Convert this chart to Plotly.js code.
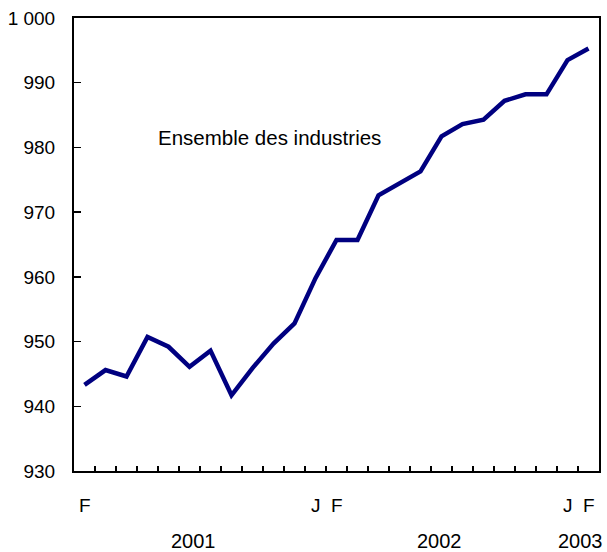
<!DOCTYPE html>
<html>
<head>
<meta charset="utf-8">
<script src="https://cdn.plot.ly/plotly-3.0.1.min.js"></script>
<style>html,body{margin:0;padding:0;background:#fff;}#chart{width:607px;height:552px;}</style>
</head>
<body>
<div id="chart"></div>
<script>
// Monthly values, Feb 2001 .. Feb 2003 (25 months)
const monthIndex = [0,1,2,3,4,5,6,7,8,9,10,11,12,13,14,15,16,17,18,19,20,21,22,23,24];
const values = [943.3, 945.6, 944.6, 950.7, 949.2, 946.1, 948.6, 941.7, 945.9, 949.7,
                952.8, 959.8, 965.7, 965.7, 972.6, 974.5, 976.3, 981.7, 983.6, 984.3,
                987.2, 988.2, 988.2, 993.5, 995.3];
const seriesName = "Ensemble des industries";
const yTickVals = [930, 940, 950, 960, 970, 980, 990, 1000];
const yTickText = ["930", "940", "950", "960", "970", "980", "990", "1 000"];
const monthLabelPos = [0, 11, 12, 23, 24];
const monthLabels = ["F", "J", "F", "J", "F"];
const yearLabelPos = [5.2, 16.9, 23.6];
const yearLabels = ["2001", "2002", "2003"];

const tickHalf = monthIndex.slice(0, -1).map(i => i + 0.5);
const FONT = "Liberation Sans, Arial, sans-serif";

const annotations = [];
monthLabelPos.forEach((p, i) => annotations.push({
  x: p, y: 0, xref: "x", yref: "paper", text: monthLabels[i], showarrow: false,
  yanchor: "middle", xanchor: "center", yshift: -34, font: {family: FONT, size: 19, color: "#000"}
}));
yearLabelPos.forEach((p, i) => annotations.push({
  x: p, y: 0, xref: "x", yref: "paper", text: yearLabels[i], showarrow: false,
  yanchor: "middle", xanchor: "center", yshift: -70, font: {family: FONT, size: 20, color: "#000"}
}));
annotations.push({
  x: 3.4, y: 981.5, xref: "x", yref: "y", text: seriesName, showarrow: false,
  xanchor: "left", yanchor: "middle", font: {family: FONT, size: 20.5, color: "#000"}
});

Plotly.newPlot("chart", [{
  x: monthIndex, y: values, type: "scatter", mode: "lines",
  line: {color: "#000080", width: 4.5}, hoverinfo: "skip"
}], {
  width: 607, height: 552,
  margin: {l: 74, r: 8, t: 18, b: 81},
  paper_bgcolor: "#fff", plot_bgcolor: "#fff",
  showlegend: false,
  font: {family: FONT, size: 19, color: "#000"},
  xaxis: {
    range: [-0.5, 24.5], tickvals: tickHalf, ticks: "inside", ticklen: 5, tickwidth: 1.5,
    tickcolor: "#000", showticklabels: false, showgrid: false, zeroline: false,
    showline: true, linecolor: "#000", linewidth: 2, mirror: true, fixedrange: true
  },
  yaxis: {
    range: [930, 1000], tickvals: yTickVals, ticktext: yTickText, ticks: "inside", ticklen: 7,
    tickwidth: 1.5, tickcolor: "#000", showgrid: false, zeroline: false,
    showline: true, linecolor: "#000", linewidth: 2, mirror: true, ticklabelstandoff: 13,
    tickfont: {family: FONT, size: 19, color: "#000"}, fixedrange: true
  },
  annotations: annotations
}, {staticPlot: true});
</script>
</body>
</html>
